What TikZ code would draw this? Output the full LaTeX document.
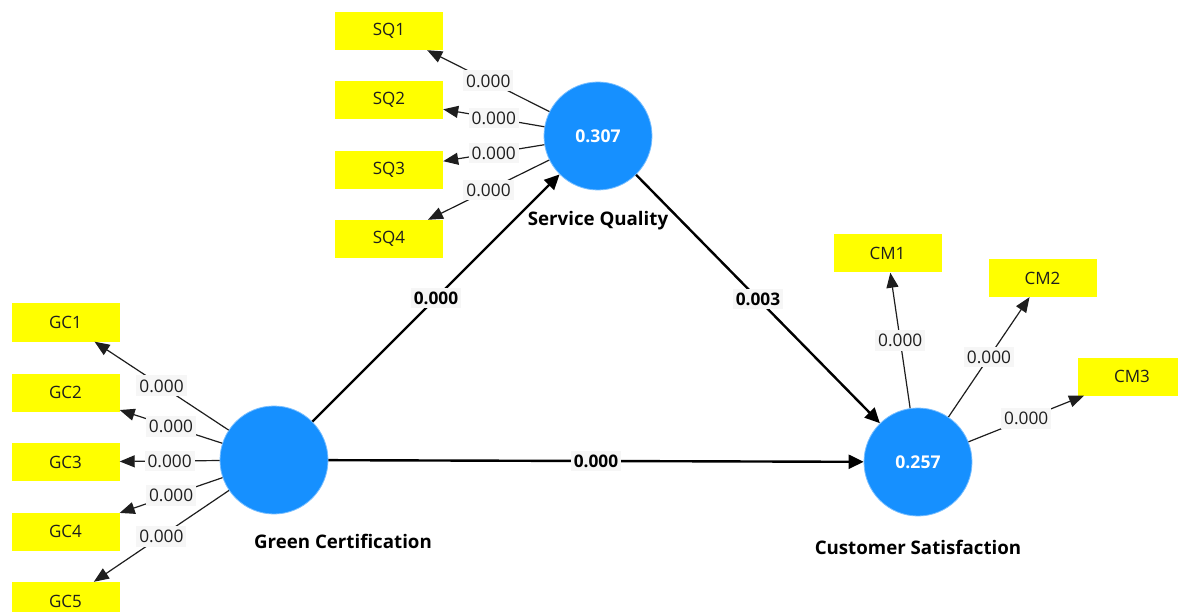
\documentclass[tikz,border=0pt]{standalone}
\usepackage{fontspec}
\setmainfont{Open Sans}
\usetikzlibrary{arrows.meta}
\definecolor{lvblue}{RGB}{22,144,255}
\definecolor{lvedge}{RGB}{120,190,255}
\definecolor{mvyellow}{RGB}{255,255,0}
\definecolor{lblbg}{RGB}{246,246,246}
\definecolor{txt}{RGB}{30,30,30}
\tikzset{
  lv/.style={circle, fill=lvblue, draw=lvedge, line width=0.8pt, minimum size=108pt, inner sep=0pt, text=white, font=\fontsize{17.6}{20}\selectfont\bfseries},
  mv/.style={rectangle, fill=mvyellow, minimum width=108pt, minimum height=38pt, inner sep=0pt, text=txt, font=\fontsize{17}{20}\selectfont},
  lvname/.style={text=black, font=\fontsize{18.7}{22}\selectfont\bfseries},
  loadarrow/.style={line width=1.2pt, draw=txt, -{Triangle[length=15pt,width=12pt]}},
  patharrow/.style={line width=2.4pt, draw=black, -{Triangle[length=15pt,width=14pt]}},
  loadlbl/.style={fill=lblbg, inner xsep=3pt, inner ysep=4pt, text=txt, font=\fontsize{17.3}{20}\selectfont, pos=0.5},
  pathlbl/.style={fill=lblbg, inner xsep=3pt, inner ysep=4pt, text=black, font=\fontsize{17.3}{20}\selectfont\bfseries, pos=0.5},
}
\begin{document}
\begin{tikzpicture}[x=1pt,y=-1pt]
\useasboundingbox (0,0) rectangle (1178,612);
\clip (0,0) rectangle (1178,612);
% latent variables
\node[lv] (sq) at (598,136) {0.307};
\node[lv] (gc) at (274,460) {};
\node[lv] (cs) at (918,462) {0.257};
\node[lvname] (sqn) at (598,221) {Service Quality};
\node[lvname] (gcn) at (343,541) {Green Certification};
\node[lvname] (csn) at (918,547) {Customer Satisfaction};
% indicators
\node[mv] (sq1) at (389,31) {SQ1};
\node[mv] (sq2) at (389,100) {SQ2};
\node[mv] (sq3) at (389,170) {SQ3};
\node[mv] (sq4) at (389,239) {SQ4};
\node[mv] (gc1) at (65.5,322.5) {GC1};
\node[mv] (gc2) at (65.5,392.5) {GC2};
\node[mv] (gc3) at (65.5,462) {GC3};
\node[mv] (gc4) at (65.5,531.5) {GC4};
\node[mv] (gc5) at (65.5,601) {GC5};
\node[mv] (cm1) at (887.5,253.5) {CM1};
\node[mv] (cm2) at (1042.5,278) {CM2};
\node[mv] (cm3) at (1132,376.5) {CM3};
% loadings
\foreach \t in {sq1,sq2,sq3,sq4}
  \draw[loadarrow] (sq) -- (\t) node[loadlbl] {0.000};
\foreach \t in {gc1,gc2,gc3,gc4,gc5}
  \draw[loadarrow] (gc) -- (\t) node[loadlbl] {0.000};
\foreach \t in {cm1,cm2,cm3}
  \draw[loadarrow] (cs) -- (\t) node[loadlbl] {0.000};
% structural paths
\draw[patharrow] (gc) -- (sq) node[pathlbl] {0.000};
\draw[patharrow] (sq) -- (cs) node[pathlbl] {0.003};
\draw[patharrow] (gc) -- (cs) node[pathlbl] {0.000};
\end{tikzpicture}
\end{document}
